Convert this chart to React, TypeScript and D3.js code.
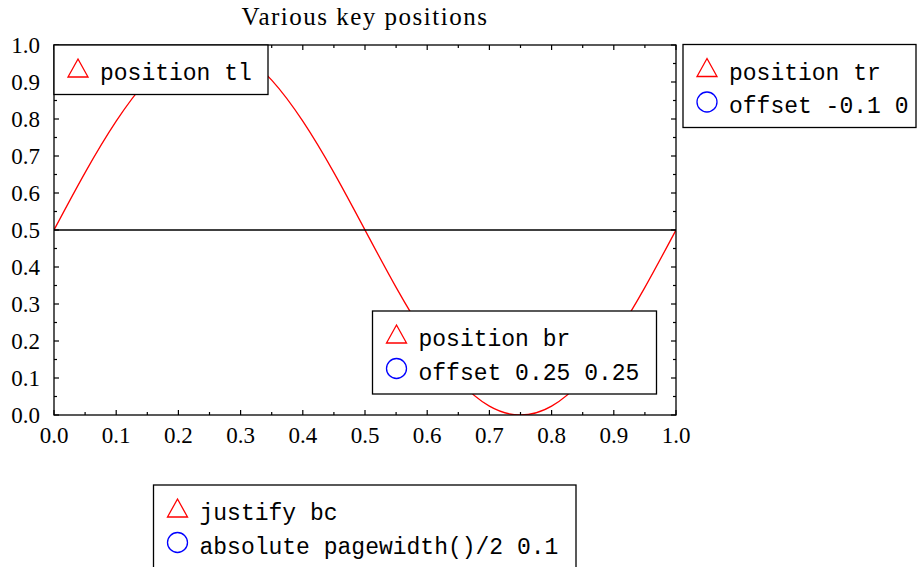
import React from "react";
import * as d3 from "d3";

const W = 917;
const H = 567;

const title = "Various key positions";
const xTicks = [0, 0.1, 0.2, 0.3, 0.4, 0.5, 0.6, 0.7, 0.8, 0.9, 1.0];
const yTicks = [0, 0.1, 0.2, 0.3, 0.4, 0.5, 0.6, 0.7, 0.8, 0.9, 1.0];

// red curve, read at 0.05 steps
const curveX = [0, 0.05, 0.1, 0.15, 0.2, 0.25, 0.3, 0.35, 0.4, 0.45, 0.5, 0.55, 0.6, 0.65, 0.7, 0.75, 0.8, 0.85, 0.9, 0.95, 1.0];
const curveY = [0.5, 0.655, 0.794, 0.905, 0.976, 1.0, 0.976, 0.905, 0.794, 0.655, 0.5, 0.345, 0.206, 0.095, 0.024, 0.0, 0.024, 0.095, 0.206, 0.345, 0.5];
// black flat line
const flatX = [0, 1];
const flatY = [0.5, 0.5];

const keyTL = [{ marker: "triangle", label: "position tl" }];
const keyTR = [
  { marker: "triangle", label: "position tr" },
  { marker: "circle", label: "offset -0.1 0" },
];
const keyBR = [
  { marker: "triangle", label: "position br" },
  { marker: "circle", label: "offset 0.25 0.25" },
];
const keyBC = [
  { marker: "triangle", label: "justify bc" },
  { marker: "circle", label: "absolute pagewidth()/2 0.1" },
];

const serif = "'Liberation Serif', 'DejaVu Serif', serif";
const mono = "'Liberation Mono', 'DejaVu Sans Mono', monospace";

function Key({ x, y, w, items }: { x: number; y: number; w: number; items: { marker: string; label: string }[] }) {
  const rowH = 33.5;
  const h = 16 + rowH * items.length;
  return (
    <g>
      <rect x={x} y={y} width={w} height={h} fill="white" stroke="black" strokeWidth={1.3} />
      {items.map((it, i) => {
        const cy = y + 24 + i * rowH;
        const cx = x + 24;
        return (
          <g key={i}>
            {it.marker === "triangle" ? (
              <path
                d={`M${cx},${cy - 10} L${cx + 10},${cy + 8} L${cx - 10},${cy + 8} Z`}
                fill="none"
                stroke="red"
                strokeWidth={1.3}
              />
            ) : (
              <circle cx={cx} cy={cy} r={10} fill="none" stroke="blue" strokeWidth={1.3} />
            )}
            <text x={x + 46} y={cy + 11} fontFamily={mono} fontSize={23} fill="black">
              {it.label}
            </text>
          </g>
        );
      })}
    </g>
  );
}

export default function App() {
  const x = d3.scaleLinear().domain([0, 1]).range([54, 676]);
  const y = d3.scaleLinear().domain([0, 1]).range([415, 45]);
  const minor = d3.range(0, 1.0001, 0.05);

  const line = d3
    .line<number>()
    .x((_, i) => x(curveX[i]))
    .y((d) => y(d))
    .curve(d3.curveNatural);
  const flat = d3
    .line<number>()
    .x((_, i) => x(flatX[i]))
    .y((d) => y(d));

  const isMajor = (v: number) => Math.abs(v * 10 - Math.round(v * 10)) < 1e-6;

  return (
    <svg width={W} height={H} style={{ position: "absolute", left: 0, top: 0, background: "white" }}>
      <rect x={0} y={0} width={W} height={H} fill="white" />
      <text x={(x(0) + x(1)) / 2} y={25} textAnchor="middle" fontFamily={serif} fontSize={25} letterSpacing={1.5}>
        {title}
      </text>
      <defs>
        <clipPath id="plotclip">
          <rect x={x(0)} y={y(1)} width={x(1) - x(0)} height={y(0) - y(1)} />
        </clipPath>
      </defs>
      <g clipPath="url(#plotclip)">
        <path d={line(curveY) || ""} fill="none" stroke="red" strokeWidth={1.3} />
        <path d={flat(flatY) || ""} fill="none" stroke="black" strokeWidth={1.3} />
      </g>
      {/* ticks */}
      {minor.map((v, i) => {
        const len = isMajor(v) ? 5 : 3;
        return (
          <g key={"t" + i} stroke="black" strokeWidth={1.2}>
            <line x1={x(v)} x2={x(v)} y1={y(0)} y2={y(0) - len} />
            <line x1={x(v)} x2={x(v)} y1={y(1)} y2={y(1) + len} />
            <line x1={x(0)} x2={x(0) + len} y1={y(v)} y2={y(v)} />
            <line x1={x(1)} x2={x(1) - len} y1={y(v)} y2={y(v)} />
          </g>
        );
      })}
      <rect x={x(0)} y={y(1)} width={x(1) - x(0)} height={y(0) - y(1)} fill="none" stroke="black" strokeWidth={1.3} />
      {xTicks.map((v, i) => (
        <text key={"xl" + i} x={x(v)} y={443} textAnchor="middle" fontFamily={serif} fontSize={23}>
          {v.toFixed(1)}
        </text>
      ))}
      {yTicks.map((v, i) => (
        <text key={"yl" + i} x={40} y={y(v) + 7.5} textAnchor="end" fontFamily={serif} fontSize={23}>
          {v.toFixed(1)}
        </text>
      ))}
      <Key x={x(0)} y={y(1)} w={214} items={keyTL} />
      <Key x={683} y={44.5} w={233} items={keyTR} />
      <Key x={372.5} y={311} w={284} items={keyBR} />
      <Key x={153.5} y={485} w={422.5} items={keyBC} />
    </svg>
  );
}
